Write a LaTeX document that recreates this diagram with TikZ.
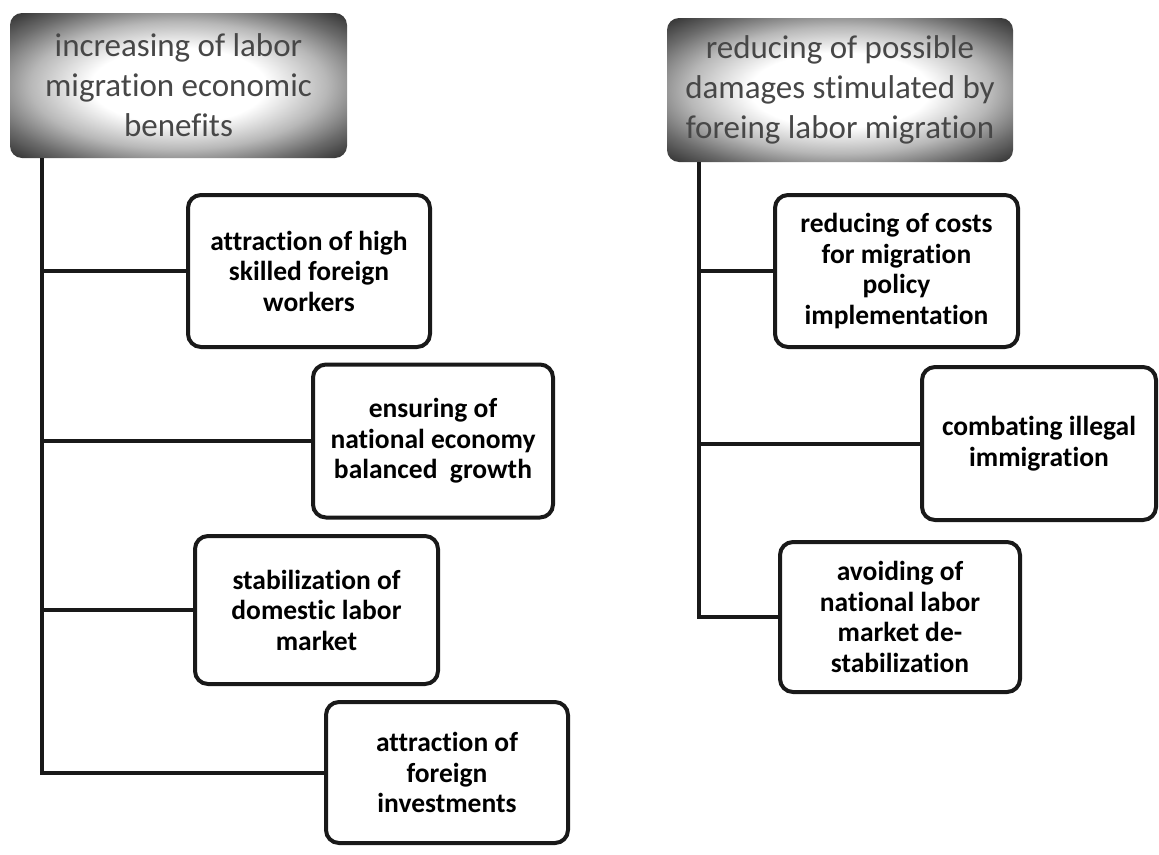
\documentclass[tikz,border=0pt]{standalone}
\usepackage{fontspec}
\setmainfont{Carlito}[Ligatures=CommonOff]
\pgfdeclareradialshading{hdrshade}{\pgfpoint{0bp}{0bp}}{color(0bp)=(white); color(13bp)=(white); color(22bp)=(black!28); color(29bp)=(black!58); color(35bp)=(black!80); color(50bp)=(black!90)}
\tikzset{
  conn/.style={line width=4pt, draw=black!90},
  child/.style={draw=black!90, line width=4pt, rounded corners=13pt, fill=white,
    align=center, font=\bfseries\fontsize{27.5}{30.5}\selectfont, inner sep=0pt},
  hdr/.style={rounded corners=12pt, shading=hdrshade, align=center,
    text=black!72, font=\fontsize{33}{40}\selectfont, inner sep=0pt},
}
\begin{document}
\begin{tikzpicture}[x=1pt,y=-1pt]
\useasboundingbox (0,0) rectangle (1159,854);
\fill[white] (0,0) rectangle (1159,854);
% headers
\node[hdr, minimum width=337pt, minimum height=145pt] (h1) at (178.5,85.5)
  {increasing of labor\\migration economic\\benefits};
\node[hdr, minimum width=346pt, minimum height=144pt] (h2) at (840,90)
  {reducing of possible\\damages stimulated by\\foreing labor migration};
% left children
\node[child, minimum width=242pt, minimum height=152pt] (c1) at (309,271)
  {attraction of high\\skilled foreign\\workers};
\node[child, minimum width=240pt, minimum height=153pt] (c2) at (433,441)
  {ensuring of\\national economy\\balanced\ \ growth};
\node[child, minimum width=243pt, minimum height=148pt] (c3) at (316.5,610)
  {stabilization of\\domestic labor\\market};
\node[child, minimum width=242pt, minimum height=141pt] (c4) at (447,772.5)
  {attraction of\\foreign\\investments};
% right children
\node[child, minimum width=243pt, minimum height=152pt] (r1) at (896.5,271)
  {reducing of costs\\for migration\\policy\\implementation};
\node[child, minimum width=234pt, minimum height=153pt] (r2) at (1039,443.5)
  {combating illegal\\immigration};
\node[child, minimum width=240pt, minimum height=150pt] (r3) at (900,617)
  {avoiding of\\national labor\\market de-\\stabilization};
% trunks
\coordinate (tl) at (42,0);
\coordinate (tr) at (699,0);
\draw[conn] (h1.south -| tl) |- (c4.west);
\draw[conn] (c1.west -| tl) -- (c1.west);
\draw[conn] (c2.west -| tl) -- (c2.west);
\draw[conn] (c3.west -| tl) -- (c3.west);
\draw[conn] (h2.south -| tr) |- (r3.west);
\draw[conn] (r1.west -| tr) -- (r1.west);
\draw[conn] (r2.west -| tr) -- (r2.west);
\end{tikzpicture}
\end{document}
